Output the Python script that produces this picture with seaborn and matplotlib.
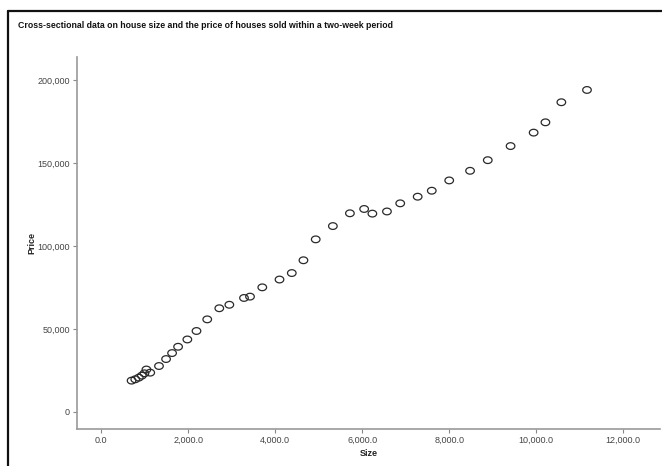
import numpy as np
import pandas as pd
import matplotlib
matplotlib.use("Agg")
import matplotlib.pyplot as plt
import matplotlib.path as mpath
from matplotlib.lines import Line2D
from matplotlib.ticker import FuncFormatter
import seaborn as sns

title = "Cross-sectional data on house size and the price of houses sold within a two-week period"

size = [700, 785, 866, 936, 996, 1041, 1129, 1330, 1493, 1631, 1769, 1982,
        2192, 2439, 2716, 2947, 3284, 3422, 3704,
        4100, 4382, 4650, 4932, 5326, 5718,
        6045, 6234, 6569, 6874, 7275, 7599, 8000,
        8479, 8886, 9410, 9940,
        10211, 10577, 11166]
price = [18900, 19700, 20700, 21900, 23300, 25600, 23700, 27700, 31900, 35500, 39300, 43700,
         48800, 55800, 62500, 64600, 68700, 69500, 75100,
         79800, 83700, 91400, 104000, 112000, 119700,
         122300, 119500, 120800, 125700, 129700, 133300, 139500,
         145300, 151700, 160200,
         168300, 174500, 186600, 194000]

x_ticks = [0, 2000, 4000, 6000, 8000, 10000, 12000]
y_ticks = [0, 50000, 100000, 150000, 200000]

df = pd.DataFrame({"Size": size, "Price": price})

sns.set_theme(style="white")
plt.rcParams["font.family"] = ["Liberation Sans", "DejaVu Sans"]

W, H = 662, 466
fig = plt.figure(figsize=(W / 100, H / 100), dpi=100)
ax = fig.add_axes([77 / W, 1 - 429 / H, (660 - 77) / W, (429 - 57) / H])

t = np.linspace(0, 2 * np.pi, 60)
ell = mpath.Path(np.column_stack([np.cos(t), 0.78 * np.sin(t)]), closed=True)

sns.scatterplot(data=df, x="Size", y="Price", ax=ax, marker=ell, s=38,
                facecolor="none", edgecolor="#2a2a2a", linewidth=0.9)

ax.set_xlim(-554, 12844)
ax.set_ylim(-10241, 213855)
ax.set_xticks(x_ticks)
ax.set_yticks(y_ticks)
ax.xaxis.set_major_formatter(FuncFormatter(lambda v, p: f"{v:,.1f}"))
ax.yaxis.set_major_formatter(FuncFormatter(lambda v, p: f"{v:,.0f}"))
ax.tick_params(axis="both", which="major", length=3, width=0.8, color="#888888",
               labelsize=6.5, labelcolor="#444444", pad=2, direction="out",
               bottom=True, left=True)
for side in ["top", "right"]:
    ax.spines[side].set_visible(False)
for side in ["left", "bottom"]:
    ax.spines[side].set_color("#9a9a9a")
    ax.spines[side].set_linewidth(1.2)
ax.grid(False)

ax.set_xlabel("Size", fontsize=6.5, fontweight="bold", color="#222222", labelpad=3)
ax.set_ylabel("Price", fontsize=6.5, fontweight="bold", color="#222222", labelpad=1)

fig.text(18 / W, 1 - 26 / H, title, fontsize=6.3, fontweight="bold",
         family=["Liberation Sans Narrow", "Liberation Sans", "DejaVu Sans"],
         ha="left", va="center", color="#111111")

fig.add_artist(Line2D([8 / W, 8 / W], [1 - 11 / H, 0], transform=fig.transFigure,
                      color="#111111", linewidth=1.6))
fig.add_artist(Line2D([8 / W, 1], [1 - 11 / H, 1 - 11 / H], transform=fig.transFigure,
                      color="#111111", linewidth=1.6))

fig.savefig("out.png", dpi=100, facecolor="white")
